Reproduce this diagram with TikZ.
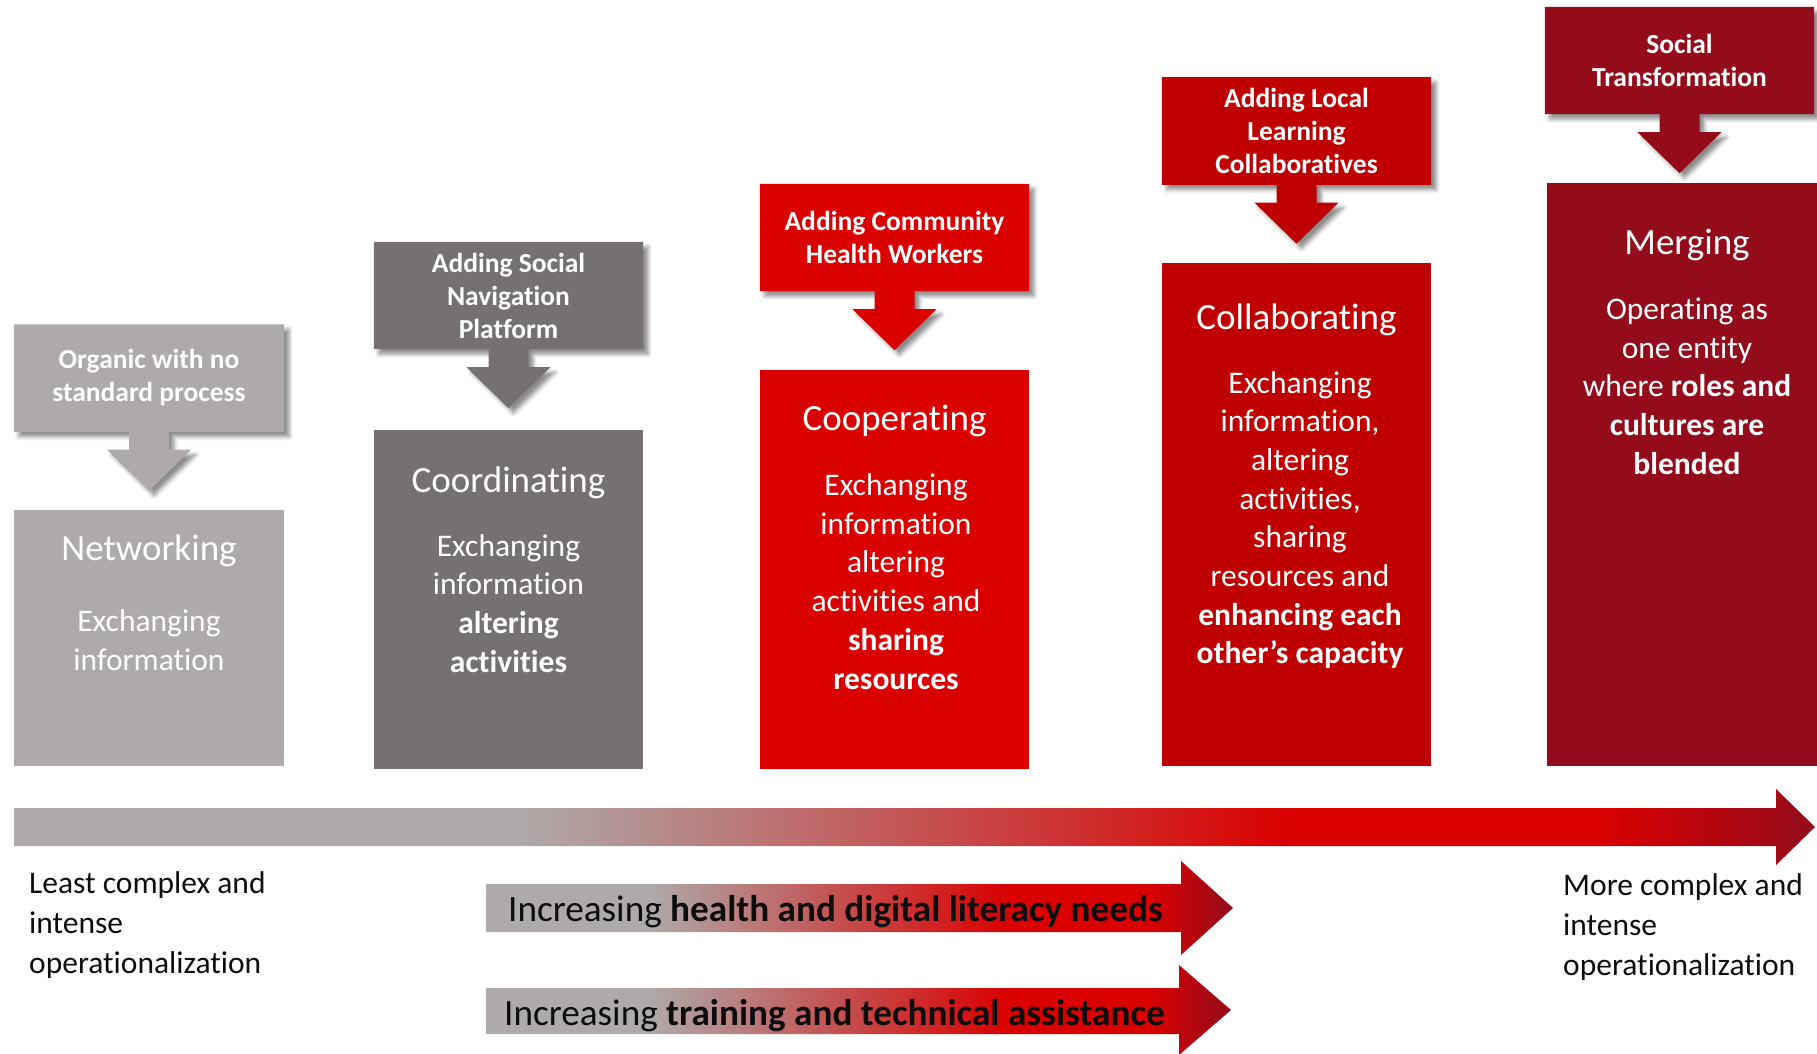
\documentclass[tikz,border=0pt]{standalone}
\usepackage{fontspec}
\setmainfont{Carlito}[Ligatures={NoCommon}]
\usetikzlibrary{calc,shadows.blur,backgrounds}

\definecolor{cgray}{HTML}{AEAAAA}
\definecolor{cdgray}{HTML}{767171}
\definecolor{cred}{HTML}{DA0000}
\definecolor{cred2}{HTML}{C00000}
\definecolor{cdark}{RGB}{148,11,27}
\definecolor{ctext}{HTML}{0D0D0D}

\pgfdeclarehorizontalshading{mainshade}{100bp}{color(0bp)=(cgray); color(39bp)=(cgray); color(60.4bp)=(cred); color(69bp)=(cred); color(75bp)=(cdark); color(100bp)=(cdark)}
\pgfdeclarehorizontalshading{smallshade}{100bp}{color(0bp)=(cgray); color(35.9bp)=(cgray); color(60bp)=(cred); color(69.4bp)=(cred); color(75bp)=(cdark); color(100bp)=(cdark)}

\newcommand\hdrarrow[2]{%
  \fill[#2, blur shadow={shadow xshift=5pt,shadow yshift=-5pt,shadow blur radius=4pt,shadow opacity=45}]
  (#1.north west) -- (#1.north east) -- (#1.south east)
  -- ($(#1.south)+(20,0)$) -- ($(#1.south)+(20,18)$) -- ($(#1.south)+(42,18)$)
  -- ($(#1.south)+(0,59)$)
  -- ($(#1.south)+(-42,18)$) -- ($(#1.south)+(-20,18)$) -- ($(#1.south)+(-20,0)$)
  -- (#1.south west) -- cycle;}

\begin{document}
\begin{tikzpicture}[x=1pt,y=-1pt,
  hdr/.style={minimum width=270pt, minimum height=107pt, inner sep=0pt, text=white, align=center,
              font=\fontsize{27.5}{33}\selectfont\bfseries},
  stagebox/.style={minimum width=270pt, inner sep=0pt},
  ttl/.style={text=white, inner sep=0pt, font=\fontsize{37}{44}\selectfont},
  bdy/.style={text=white, inner sep=0pt, align=center, font=\fontsize{31.5}{38.7}\selectfont},
  lbl/.style={text=ctext, inner sep=0pt, align=left, font=\fontsize{31.5}{40}\selectfont},
  atext/.style={text=ctext, inner sep=0pt, font=\fontsize{37.2}{44}\selectfont}
]
\useasboundingbox (0,0) rectangle (1817,1054);

% header nodes
\node[hdr, fill=cgray] (h1) at (149,378) {Organic with no\\standard process};
\node[hdr, fill=cdgray, minimum width=269pt] (h2) at (508.5,295.5) {Adding Social\\Navigation\\Platform};
\node[hdr, fill=cred, minimum width=269pt] (h3) at (894.5,237.5) {Adding Community\\Health Workers};
\node[hdr, fill=cred2, minimum width=269pt] (h4) at (1296.5,131) {Adding Local\\Learning\\Collaboratives};
\node[hdr, fill=cdark, minimum width=269pt] (h5) at (1679.5,60.5) {Social\\Transformation};

\begin{scope}[on background layer]
  \hdrarrow{h1}{cgray}
  \hdrarrow{h2}{cdgray}
  \hdrarrow{h3}{cred}
  \hdrarrow{h4}{cred2}
  \hdrarrow{h5}{cdark}
\end{scope}

% stage boxes
\node[stagebox, fill=cgray, minimum height=256pt] (b1) at (149,638) {};
\node[stagebox, fill=cdgray, minimum width=269pt, minimum height=339pt] (b2) at (508.5,599.5) {};
\node[stagebox, fill=cred, minimum width=269pt, minimum height=399pt] (b3) at (894.5,569.5) {};
\node[stagebox, fill=cred2, minimum width=269pt, minimum height=503pt] (b4) at (1296.5,514.5) {};
\node[stagebox, fill=cdark, minimum height=583pt] (b5) at (1682,474.5) {};

% titles and bodies
\node[ttl] (t1) at (149,550.5) {Networking};
\node[bdy] (d1) at (149,640) {Exchanging\\information};
\node[ttl] (t2) at (508.5,482.5) {Coordinating};
\node[bdy] (d2) at (508.5,603.5) {Exchanging\\information\\\textbf{altering}\\\textbf{activities}};
\node[ttl] (t3) at (894.5,420.5) {Cooperating};
\node[bdy] (d3) at (896,581.5) {Exchanging\\information\\altering\\activities and\\\textbf{sharing}\\\textbf{resources}};
\node[ttl] (t4) at (1296.5,319.5) {Collaborating};
\node[bdy] (d4) at (1300,520) {Exchanging\\information,\\altering\\activities,\\sharing\\resources and\\\textbf{enhancing each}\\\textbf{other’s capacity}};
\node[ttl] (t5) at (1687,244.5) {Merging};
\node[bdy] (d5) at (1687,386) {Operating as\\one entity\\where \textbf{roles and}\\\textbf{cultures are}\\\textbf{blended}};

% big progression arrow
\shade[shading=mainshade] (14,808) -- (1776,808) -- (1776,789) -- (1815,827) -- (1776,865) -- (1776,846) -- (14,846) -- cycle;

% small arrows
\shade[shading=smallshade] (486,884) -- (1181,884) -- (1181,861) -- (1233,908) -- (1181,955) -- (1181,932) -- (486,932) -- cycle;
\shade[shading=smallshade] (486,988) -- (1179,988) -- (1179,965) -- (1231,1010) -- (1179,1055) -- (1179,1034) -- (486,1034) -- cycle;

% labels
\node[lbl, anchor=west] (la) at (29,925.5) {Least complex and\\intense\\operationalization};
\node[lbl, anchor=west] (lb) at (1563,927.5) {More complex and\\intense\\operationalization};
\node[atext, anchor=west] (a1) at (508,912) {Increasing \textbf{health and digital literacy needs}};
\node[atext, anchor=west] (a2) at (504,1015.5) {Increasing \textbf{training and technical assistance}};
\end{tikzpicture}
\end{document}
